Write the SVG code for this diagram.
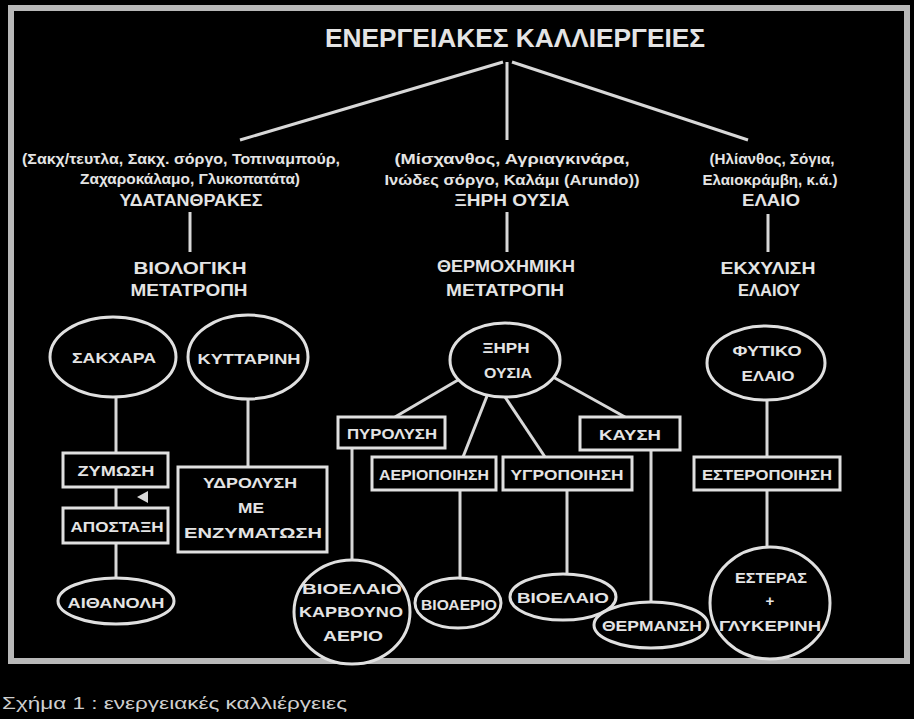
<svg xmlns="http://www.w3.org/2000/svg" width="914" height="719" viewBox="0 0 914 719">
<style>
  text { font-family: "Liberation Sans", "DejaVu Sans", sans-serif; fill: #e4e4e4; font-weight: bold; text-anchor: middle; dominant-baseline: central; }
  .t { font-size: 26px; }
  .c { font-size: 15px; }
  .m { font-size: 16px; }
  .n { font-size: 15px; }
  .cap { font-weight: normal; font-size: 16px; text-anchor: start; fill: #cfcfcf; }
  .shape { fill: #000; stroke: #e0e0e0; stroke-width: 3; }
  .edge { fill: none; stroke: #d8d8d8; stroke-width: 3; }
</style>
<rect x="0" y="0" width="914" height="719" fill="#000"/>
<rect x="11" y="8" width="896" height="653" fill="none" stroke="#b8b8b8" stroke-width="6"/>

<g id="connectors">
  <line class="edge" x1="503" y1="62" x2="240" y2="140"/>
  <line class="edge" x1="507" y1="62" x2="507" y2="140"/>
  <line class="edge" x1="512" y1="62" x2="748" y2="140"/>
  <line class="edge" x1="190" y1="212" x2="190" y2="252"/>
  <line class="edge" x1="507" y1="212" x2="507" y2="252"/>
  <line class="edge" x1="768" y1="214" x2="768" y2="252"/>
  <line class="edge" x1="116" y1="397" x2="116" y2="578"/>
  <line class="edge" x1="248" y1="400" x2="248" y2="467"/>
  <polygon points="137,497 148,491 148,503" fill="#d8d8d8"/>
  <line class="edge" x1="458" y1="380" x2="395" y2="417"/>
  <line class="edge" x1="487" y1="396" x2="463" y2="457"/>
  <line class="edge" x1="505" y1="397" x2="545" y2="457"/>
  <line class="edge" x1="553" y1="377" x2="625" y2="417"/>
  <line class="edge" x1="352" y1="448" x2="352" y2="561"/>
  <line class="edge" x1="460" y1="490" x2="460" y2="579"/>
  <line class="edge" x1="567" y1="490" x2="567" y2="574"/>
  <line class="edge" x1="651" y1="450" x2="651" y2="602"/>
  <line class="edge" x1="767" y1="400" x2="767" y2="457"/>
  <line class="edge" x1="767" y1="490" x2="767" y2="547"/>
</g>

<g id="title"><text class="t" x="515" y="38" textLength="380" lengthAdjust="spacingAndGlyphs">ΕΝΕΡΓΕΙΑΚΕΣ ΚΑΛΛΙΕΡΓΕΙΕΣ</text></g>

<g id="cat-left">
  <text class="c" x="181" y="158" textLength="318" lengthAdjust="spacingAndGlyphs">(Σακχ/τευτλα, Σακχ. σόργο, Τοπιναμπούρ,</text>
  <text class="c" x="190" y="178" textLength="220" lengthAdjust="spacingAndGlyphs">Ζαχαροκάλαμο, Γλυκοπατάτα)</text>
  <text class="m" x="191" y="200" textLength="143" lengthAdjust="spacingAndGlyphs">ΥΔΑΤΑΝΘΡΑΚΕΣ</text>
</g>
<g id="cat-mid">
  <text class="c" x="512" y="158" textLength="235" lengthAdjust="spacingAndGlyphs">(Μίσχανθος, Αγριαγκινάρα,</text>
  <text class="c" x="512" y="179" textLength="255" lengthAdjust="spacingAndGlyphs">Ινώδες σόργο, Καλάμι (Arundo))</text>
  <text class="m" x="512" y="200" textLength="115" lengthAdjust="spacingAndGlyphs">ΞΗΡΗ ΟΥΣΙΑ</text>
</g>
<g id="cat-right">
  <text class="c" x="772" y="158" textLength="125" lengthAdjust="spacingAndGlyphs">(Ηλίανθος, Σόγια,</text>
  <text class="c" x="770" y="179" textLength="135" lengthAdjust="spacingAndGlyphs">Ελαιοκράμβη, κ.ά.)</text>
  <text class="m" x="771" y="200" textLength="58" lengthAdjust="spacingAndGlyphs">ΕΛΑΙΟ</text>
</g>

<g id="bio-conv">
  <text class="m" x="190" y="268" textLength="113" lengthAdjust="spacingAndGlyphs">ΒΙΟΛΟΓΙΚΗ</text>
  <text class="m" x="189" y="290" textLength="117" lengthAdjust="spacingAndGlyphs">ΜΕΤΑΤΡΟΠΗ</text>
</g>
<g id="thermo-conv">
  <text class="m" x="506" y="266" textLength="138" lengthAdjust="spacingAndGlyphs">ΘΕΡΜΟΧΗΜΙΚΗ</text>
  <text class="m" x="505" y="290" textLength="118" lengthAdjust="spacingAndGlyphs">ΜΕΤΑΤΡΟΠΗ</text>
</g>
<g id="oil-extr">
  <text class="m" x="768" y="268" textLength="95" lengthAdjust="spacingAndGlyphs">ΕΚΧΥΛΙΣΗ</text>
  <text class="m" x="769" y="290" textLength="62" lengthAdjust="spacingAndGlyphs">ΕΛΑΙΟΥ</text>
</g>

<g id="sugars">
  <ellipse class="shape" cx="113" cy="357" rx="63" ry="40"/>
  <text class="n" x="114" y="357" textLength="84" lengthAdjust="spacingAndGlyphs">ΣΑΚΧΑΡΑ</text>
</g>
<g id="cellulose">
  <ellipse class="shape" cx="248" cy="357" rx="60" ry="42"/>
  <text class="n" x="249" y="358" textLength="103" lengthAdjust="spacingAndGlyphs">ΚΥΤΤΑΡΙΝΗ</text>
</g>
<g id="dry-matter">
  <ellipse class="shape" cx="505" cy="360" rx="55" ry="37"/>
  <text class="n" x="506" y="347" textLength="47" lengthAdjust="spacingAndGlyphs">ΞΗΡΗ</text>
  <text class="n" x="508" y="372" textLength="48" lengthAdjust="spacingAndGlyphs">ΟΥΣΙΑ</text>
</g>
<g id="veg-oil">
  <ellipse class="shape" cx="766" cy="363" rx="59" ry="37"/>
  <text class="n" x="767" y="350" textLength="69" lengthAdjust="spacingAndGlyphs">ΦΥΤΙΚΟ</text>
  <text class="n" x="768" y="375" textLength="53" lengthAdjust="spacingAndGlyphs">ΕΛΑΙΟ</text>
</g>

<g id="fermentation">
  <rect class="shape" x="63" y="453" width="105" height="34"/>
  <text class="n" x="116" y="470" textLength="77" lengthAdjust="spacingAndGlyphs">ΖΥΜΩΣΗ</text>
</g>
<g id="distillation">
  <rect class="shape" x="63" y="508" width="105" height="35"/>
  <text class="n" x="117" y="526" textLength="93" lengthAdjust="spacingAndGlyphs">ΑΠΟΣΤΑΞΗ</text>
</g>
<g id="hydrolysis">
  <rect class="shape" x="178" y="467" width="149" height="85"/>
  <text class="n" x="250" y="482" textLength="94" lengthAdjust="spacingAndGlyphs">ΥΔΡΟΛΥΣΗ</text>
  <text class="n" x="251" y="507" textLength="26" lengthAdjust="spacingAndGlyphs">ΜΕ</text>
  <text class="n" x="253" y="532" textLength="138" lengthAdjust="spacingAndGlyphs">ΕΝΖΥΜΑΤΩΣΗ</text>
</g>
<g id="ethanol">
  <ellipse class="shape" cx="116" cy="601" rx="58" ry="23"/>
  <text class="n" x="116" y="602" textLength="97" lengthAdjust="spacingAndGlyphs">ΑΙΘΑΝΟΛΗ</text>
</g>

<g id="pyrolysis">
  <rect class="shape" x="338" y="417" width="107" height="31"/>
  <text class="n" x="392" y="433" textLength="90" lengthAdjust="spacingAndGlyphs">ΠΥΡΟΛΥΣΗ</text>
</g>
<g id="combustion">
  <rect class="shape" x="580" y="417" width="100" height="33"/>
  <text class="n" x="630" y="434" textLength="62" lengthAdjust="spacingAndGlyphs">ΚΑΥΣΗ</text>
</g>
<g id="gasification">
  <rect class="shape" x="372" y="457" width="124" height="33"/>
  <text class="n" x="434" y="474" textLength="110" lengthAdjust="spacingAndGlyphs">ΑΕΡΙΟΠΟΙΗΣΗ</text>
</g>
<g id="liquefaction">
  <rect class="shape" x="503" y="457" width="129" height="33"/>
  <text class="n" x="567" y="474" textLength="113" lengthAdjust="spacingAndGlyphs">ΥΓΡΟΠΟΙΗΣΗ</text>
</g>
<g id="esterification">
  <rect class="shape" x="694" y="457" width="146" height="33"/>
  <text class="n" x="767" y="474" textLength="130" lengthAdjust="spacingAndGlyphs">ΕΣΤΕΡΟΠΟΙΗΣΗ</text>
</g>

<g id="pyro-products">
  <ellipse class="shape" cx="352" cy="612" rx="58" ry="52"/>
  <text class="n" x="352" y="588" textLength="100" lengthAdjust="spacingAndGlyphs">ΒΙΟΕΛΑΙΟ</text>
  <text class="n" x="351" y="611" textLength="104" lengthAdjust="spacingAndGlyphs">ΚΑΡΒΟΥΝΟ</text>
  <text class="n" x="353" y="635" textLength="60" lengthAdjust="spacingAndGlyphs">ΑΕΡΙΟ</text>
</g>
<g id="gas-product">
  <ellipse class="shape" cx="458" cy="603" rx="43" ry="25"/>
  <text class="n" x="459" y="604" textLength="76" lengthAdjust="spacingAndGlyphs">ΒΙΟΑΕΡΙΟ</text>
</g>
<g id="liquid-product">
  <ellipse class="shape" cx="563" cy="597" rx="53" ry="23"/>
  <text class="n" x="563" y="597" textLength="92" lengthAdjust="spacingAndGlyphs">ΒΙΟΕΛΑΙΟ</text>
</g>
<g id="heating">
  <ellipse class="shape" cx="651" cy="625" rx="57" ry="23"/>
  <text class="n" x="652" y="625" textLength="100" lengthAdjust="spacingAndGlyphs">ΘΕΡΜΑΝΣΗ</text>
</g>
<g id="esters">
  <ellipse class="shape" cx="770" cy="603" rx="60" ry="56"/>
  <text class="n" x="771" y="577" textLength="72" lengthAdjust="spacingAndGlyphs">ΕΣΤΕΡΑΣ</text>
  <text class="n" x="770" y="600">+</text>
  <text class="n" x="770" y="625" textLength="102" lengthAdjust="spacingAndGlyphs">ΓΛΥΚΕΡΙΝΗ</text>
</g>

<text class="cap" x="2" y="703" textLength="345" lengthAdjust="spacingAndGlyphs">Σχήμα 1 : ενεργειακές καλλιέργειες</text>
</svg>
